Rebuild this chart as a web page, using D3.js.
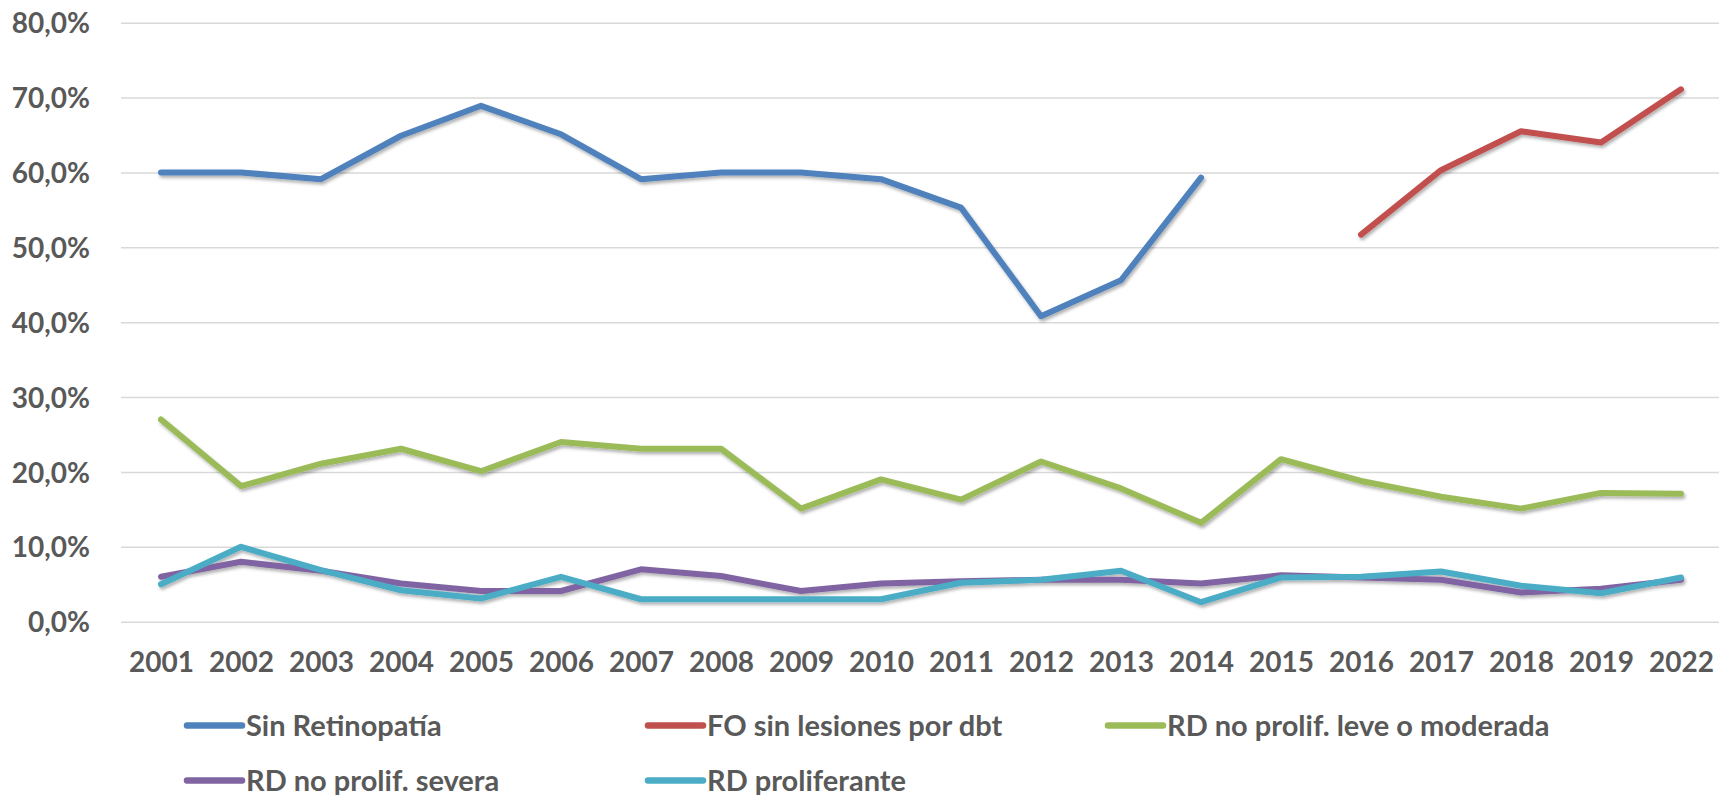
<!DOCTYPE html>
<html>
<head>
<meta charset="utf-8">
<script src="https://cdn.jsdelivr.net/npm/d3@7"></script>
<style>
  body { margin: 0; background: #fff; }
  svg text { font-family: Lato, "Open Sans", sans-serif; font-weight: bold; fill: #595959; }
</style>
</head>
<body>
<svg width="1719" height="795"></svg>
<script>
// años (categorias)
var years = ["2001","2002","2003","2004","2005","2006","2007","2008","2009","2010",
             "2011","2012","2013","2014","2015","2016","2017","2018","2019","2022"];

// valores en % (null = sin dato)
var sinRetinopatia = [60, 60, 59.1, 64.9, 68.9, 65.1, 59.1, 60, 60, 59.1,
                      55.3, 40.8, 45.6, 59.3, null, null, null, null, null, null];
var foSinLesiones  = [null, null, null, null, null, null, null, null, null, null,
                      null, null, null, null, null, 51.7, 60.3, 65.5, 64.0, 71.1];
var rdLeveModerada = [27, 18.1, 21.1, 23.1, 20.1, 24.0, 23.1, 23.1, 15.1, 19.0,
                      16.3, 21.4, 17.8, 13.2, 21.7, 18.8, 16.7, 15.1, 17.2, 17.1];
var rdSevera       = [6.0, 8.0, 6.8, 5.1, 4.1, 4.1, 7.0, 6.1, 4.1, 5.1,
                      5.4, 5.6, 5.6, 5.1, 6.2, 5.9, 5.6, 3.9, 4.4, 5.6];
var rdProliferante = [5.0, 10.0, 6.9, 4.2, 3.1, 6.0, 3.0, 3.0, 3.0, 3.0,
                      5.2, 5.6, 6.8, 2.6, 5.9, 6.0, 6.7, 4.8, 3.8, 5.9];

var seriesNames  = ["Sin Retinopatía", "FO sin lesiones por dbt", "RD no prolif. leve o moderada",
                    "RD no prolif. severa", "RD proliferante"];
var seriesValues = [sinRetinopatia, foSinLesiones, rdLeveModerada, rdSevera, rdProliferante];
var seriesColors = ["#4F81BD", "#C0504D", "#9BBB59", "#8064A2", "#4BACC6"];
var yTicks = [0, 10, 20, 30, 40, 50, 60, 70, 80];

var svg = d3.select("svg");

// ojo: "top" choca con window.top
var plotLeft = 121, plotRight = 1721, plotTop = 22.7, plotBottom = 621.7;

var x = d3.scalePoint().domain(years).range([plotLeft, plotRight]).padding(0.5);
var y = d3.scaleLinear().domain([0, 80]).range([plotBottom, plotTop]);

// sombra tipo excel
var defs = svg.append("defs");
defs.append("filter")
    .attr("id", "sombra")
    .attr("x", "-5%").attr("y", "-20%").attr("width", "110%").attr("height", "140%")
  .append("feDropShadow")
    .attr("dx", 1.5).attr("dy", 2.5)
    .attr("stdDeviation", 1.5)
    .attr("flood-color", "#000")
    .attr("flood-opacity", 0.3);

// eje y + lineas de grilla
var yAxis = svg.append("g")
    .attr("transform", "translate(" + plotLeft + ",0)")
    .call(d3.axisLeft(y)
        .tickValues(yTicks)
        .tickSize(-(plotRight - plotLeft))
        .tickPadding(31)
        .tickFormat(function(d) { return d.toFixed(1).replace(".", ",") + "%"; }));

yAxis.select(".domain").remove();
yAxis.selectAll(".tick line").attr("stroke", "#d9d9d9").attr("stroke-width", 1.5);
yAxis.selectAll(".tick text").style("font-size", "28px").attr("dy", "0.36em");

// eje x
var xAxis = svg.append("g")
    .attr("transform", "translate(0," + plotBottom + ")")
    .call(d3.axisBottom(x).tickSize(0).tickPadding(0));

xAxis.select(".domain").remove();
xAxis.selectAll(".tick text").style("font-size", "28px").attr("y", 50).attr("dy", 0);

// lineas
var line = d3.line()
    .defined(function(d) { return d != null; })
    .x(function(d, i) { return x(years[i]); })
    .y(function(d) { return y(d); });

svg.append("g")
    .attr("filter", "url(#sombra)")
  .selectAll("path")
    .data(seriesValues)
    .enter().append("path")
    .attr("d", line)
    .attr("fill", "none")
    .attr("stroke", function(d, i) { return seriesColors[i]; })
    .attr("stroke-width", 6)
    .attr("stroke-linecap", "round")
    .attr("stroke-linejoin", "round");

// leyenda
var legendPos = [[187, 725.5], [648, 725.5], [1108, 725.5], [187, 780.5], [648, 780.5]];

var legend = svg.append("g").selectAll("g")
    .data(seriesNames)
    .enter().append("g")
    .attr("transform", function(d, i) { return "translate(" + legendPos[i][0] + "," + legendPos[i][1] + ")"; });

legend.append("line")
    .attr("x1", 0).attr("x2", 55)
    .attr("stroke", function(d, i) { return seriesColors[i]; })
    .attr("stroke-width", 6.5)
    .attr("stroke-linecap", "round");

legend.append("text")
    .attr("x", 59)
    .attr("dy", "0.36em")
    .style("font-size", "29px")
    .text(function(d) { return d; });
</script>
</body>
</html>
